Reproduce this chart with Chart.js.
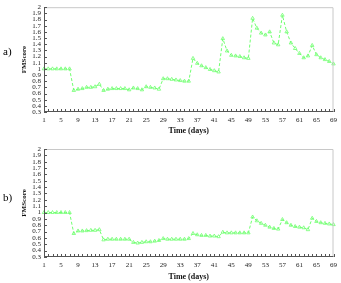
<!DOCTYPE html>
<html>
<head>
<meta charset="utf-8">
<script src="https://cdn.jsdelivr.net/npm/chart.js@4.4.1/dist/chart.umd.min.js"></script>
<style>
  html, body { margin: 0; padding: 0; background: #fff; }
  body { width: 341px; height: 283px; position: relative; overflow: hidden; }
  .wrap { position: absolute; left: 0; width: 341px; }
  #wa { top: 0; height: 140px; }
  #wb { top: 140px; height: 143px; }
  .lab { position: absolute; font-family: "Liberation Serif", serif; font-size: 11px; color: #000; }
</style>
</head>
<body>
<div class="wrap" id="wa"><canvas id="ca" width="341" height="140"></canvas></div>
<div class="wrap" id="wb"><canvas id="cb" width="341" height="143"></canvas></div>
<div class="lab" style="left:3px;top:45px;">a)</div>
<div class="lab" style="left:3px;top:191px;">b)</div>
<script>
// ---- data ----
const days = [];
for (let d = 1; d <= 69; d++) days.push(String(d));

const fmScoreA = [
  1.00, 1.00, 1.00, 1.00, 1.00, 1.00, 1.00,
  0.65, 0.67, 0.68, 0.70, 0.70, 0.71, 0.75,
  0.65, 0.67, 0.68, 0.68, 0.68, 0.68, 0.66, 0.69, 0.68, 0.66, 0.71, 0.70, 0.69, 0.67,
  0.84, 0.84, 0.83, 0.82, 0.81, 0.80, 0.80,
  1.17, 1.09, 1.05, 1.02, 0.99, 0.97, 0.95,
  1.49, 1.29, 1.22, 1.21, 1.20, 1.18, 1.17,
  1.82, 1.66, 1.58, 1.55, 1.60, 1.42, 1.39,
  1.87, 1.60, 1.42, 1.33, 1.25, 1.18, 1.21,
  1.38, 1.23, 1.18, 1.15, 1.12, 1.08
];

const fmScoreB = [
  1.00, 1.00, 1.00, 1.00, 1.00, 1.00, 1.00,
  0.67, 0.71, 0.71, 0.715, 0.72, 0.72, 0.73,
  0.57, 0.58, 0.58, 0.58, 0.58, 0.58, 0.58,
  0.53, 0.52, 0.53, 0.54, 0.54, 0.55, 0.56,
  0.59, 0.58, 0.58, 0.58, 0.58, 0.58, 0.59,
  0.67, 0.65, 0.64, 0.64, 0.63, 0.63, 0.62,
  0.69, 0.68, 0.68, 0.68, 0.68, 0.68, 0.68,
  0.93, 0.87, 0.83, 0.80, 0.77, 0.75, 0.74,
  0.89, 0.84, 0.80, 0.78, 0.77, 0.76, 0.73,
  0.91, 0.86, 0.84, 0.83, 0.82, 0.81
];

const yMin = 0.3, yMax = 2.0, yStep = 0.1;
const xLabelEvery = 4;
const yTitle = "FMScore";
const xTitle = "Time (days)";

// ---- drawing ----
const GREEN = '#70ff70';
const SERIF = '"Liberation Serif", "Times New Roman", serif';

const framePlugin = {
  id: 'frame',
  afterDraw(chart) {
    const {ctx, chartArea: a, scales: {x, y}} = chart;
    ctx.save();
    ctx.lineWidth = 1;
    ctx.strokeStyle = '#c8c8c8';
    ctx.beginPath();
    ctx.moveTo(a.left + 0.5, a.top + 0.5);
    ctx.lineTo(a.right - 0.5, a.top + 0.5);
    ctx.lineTo(a.right - 0.5, a.bottom - 0.5);
    ctx.stroke();
    ctx.strokeStyle = '#555';
    ctx.beginPath();
    ctx.moveTo(a.left + 0.5, a.top);
    ctx.lineTo(a.left + 0.5, a.bottom - 0.5);
    ctx.lineTo(a.right, a.bottom - 0.5);
    ctx.stroke();
    ctx.beginPath();
    y.ticks.forEach(t => {
      const py = Math.round(y.getPixelForValue(t.value)) + 0.5;
      ctx.moveTo(a.left, py); ctx.lineTo(a.left + 3, py);
    });
    for (let i = 0; i < x.getLabels().length; i++) {
      const px = Math.round(x.getPixelForValue(i)) + 0.5;
      ctx.moveTo(px, a.bottom); ctx.lineTo(px, a.bottom - 3);
    }
    ctx.stroke();
    ctx.restore();
  }
};

function makeChart(id, data, padTop, xHeight, xTitlePad) {
  return new Chart(document.getElementById(id), {
    type: 'line',
    data: {
      labels: days,
      datasets: [{
        data: data,
        borderColor: GREEN,
        backgroundColor: 'rgba(0,0,0,0)',
        borderWidth: 1,
        borderDash: [3, 2],
        pointStyle: 'triangle',
        pointRadius: 2,
        pointBorderWidth: 0.8,
        pointBorderColor: GREEN,
        pointBackgroundColor: 'rgba(255,255,255,0)',
        tension: 0
      }]
    },
    options: {
      responsive: false,
      animation: false,
      devicePixelRatio: 1,
      layout: { padding: { top: padTop, right: 4, left: 0, bottom: 0 } },
      plugins: { legend: { display: false }, tooltip: { enabled: false } },
      scales: {
        x: {
          type: 'category',
          offset: false,
          grid: { display: false, drawTicks: false },
          border: { display: false },
          ticks: {
            autoSkip: false, maxRotation: 0, padding: 4,
            color: '#222',
            font: { family: SERIF, size: 7 },
            callback: (v, i) => (i % xLabelEvery === 0 ? days[i] : '')
          },
          title: {
            display: true, text: xTitle, color: '#111',
            font: { family: SERIF, size: 8, weight: 'bold' },
            padding: { top: 0, bottom: xTitlePad }
          },
          afterFit: s => { s.height = xHeight; }
        },
        y: {
          min: yMin, max: yMax,
          grid: { display: false, drawTicks: false },
          border: { display: false },
          ticks: {
            autoSkip: false,
            stepSize: yStep, padding: 3, color: '#222',
            font: { family: SERIF, size: 7 },
            callback: v => String(Math.round(v * 10) / 10)
          },
          title: {
            display: true, text: yTitle, color: '#111',
            font: { family: SERIF, size: 7, weight: 'bold' },
            padding: { top: 20, bottom: 0 }
          },
          afterFit: s => { s.width = 44; }
        }
      }
    },
    plugins: [framePlugin]
  });
}

makeChart('ca', fmScoreA, 4, 28, 4);
makeChart('cb', fmScoreB, 9, 26, 1);
</script>
</body>
</html>
